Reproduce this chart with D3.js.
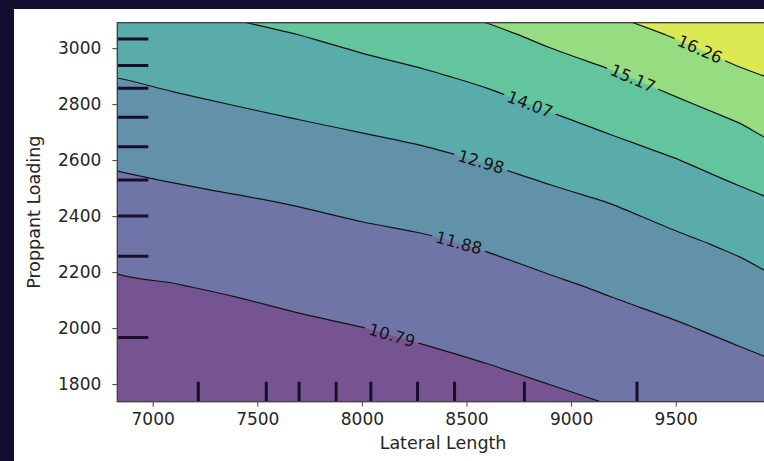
<!DOCTYPE html>
<html>
<head>
<meta charset="utf-8">
<title>Partial dependence: Lateral Length x Proppant Loading</title>
<script src="https://cdn.jsdelivr.net/npm/d3@7"></script>
<style>
  body { margin: 0; background: #120c2e; }
  svg { display: block; }
  .tick text { font-family: "DejaVu Sans", sans-serif; font-size: 17px; fill: #262626; }
  .tick line { stroke: #444; }
  .label { font-family: "DejaVu Sans", sans-serif; font-size: 17.5px; fill: #262626; }
  .clabel { font-family: "DejaVu Sans", sans-serif; font-size: 16.5px; fill: #151515; }
</style>
</head>
<body>
<svg id="chart" width="764" height="461"></svg>
<script>
// grid of the partial dependence
const lateralLength = [6800, 7100, 7400, 7700, 8000, 8300, 8600, 8900, 9200, 9500, 9800, 10100];
const proppantLoading = [3200, 3050, 2900, 2750, 2600, 2450, 2300, 2150, 2000, 1850, 1700];
// one row per proppant loading value (top to bottom)
const response = [
  [14.02, 14.24, 14.47, 14.73, 15.00, 15.33, 15.77, 16.29, 16.74, 17.25, 17.74, 18.15],
  [13.50, 13.69, 13.87, 14.08, 14.34, 14.63, 14.96, 15.41, 15.87, 16.35, 16.90, 17.34],
  [12.99, 13.17, 13.35, 13.54, 13.74, 13.96, 14.25, 14.67, 15.06, 15.54, 16.07, 16.53],
  [12.48, 12.66, 12.83, 13.00, 13.17, 13.37, 13.63, 13.97, 14.35, 14.78, 15.25, 15.74],
  [11.98, 12.14, 12.30, 12.47, 12.63, 12.79, 13.03, 13.32, 13.67, 14.04, 14.50, 14.98],
  [11.52, 11.66, 11.79, 11.93, 12.10, 12.26, 12.49, 12.74, 13.01, 13.39, 13.79, 14.22],
  [11.07, 11.20, 11.34, 11.49, 11.63, 11.76, 11.96, 12.23, 12.50, 12.79, 13.14, 13.55],
  [10.64, 10.76, 10.90, 11.06, 11.21, 11.35, 11.54, 11.75, 12.00, 12.28, 12.59, 12.92],
  [10.24, 10.36, 10.48, 10.64, 10.78, 10.95, 11.13, 11.34, 11.56, 11.79, 12.08, 12.40],
  [ 9.89,  9.99, 10.10, 10.25, 10.38, 10.55, 10.73, 10.93, 11.14, 11.36, 11.61, 11.89],
  [ 9.56,  9.66,  9.75,  9.90, 10.01, 10.16, 10.34, 10.53, 10.73, 10.94, 11.17, 11.43]
];
const levels = [10.79, 11.88, 12.98, 14.07, 15.17, 16.26];
const levelRange = [9.70, 17.36];
// lateral length where each contour carries its label
const labelAt = [8143, 8463, 8569, 8803, 9295, 9615];
const lateralDeciles = [7218, 7543, 7700, 7877, 8043, 8266, 8443, 8777, 9315];
const proppantDeciles = [1966, 2257, 2400, 2529, 2648, 2753, 2857, 2938, 3033];
const xTicks = [7000, 7500, 8000, 8500, 9000, 9500];
const yTicks = [1800, 2000, 2200, 2400, 2600, 2800, 3000];

const svg = d3.select("#chart");

// white figure panel
svg.append("rect")
    .attr("x", 14).attr("y", 9)
    .attr("width", 760).attr("height", 460)
    .attr("fill", "#fff");

const pLeft = 117.3, pRight = 768.8, pTop = 22.7, pBottom = 401.7;
const x = d3.scaleLinear().domain([6831, 9945]).range([pLeft, pRight]);
const y = d3.scaleLinear().domain([1737, 3091]).range([pBottom, pTop]);

// band colours: viridis at alpha 0.75 over white
const bounds = [levelRange[0], ...levels, levelRange[1]];
const bandColor = i => {
    const mid = (bounds[i] + bounds[i + 1]) / 2;
    const t = (mid - levelRange[0]) / (levelRange[1] - levelRange[0]);
    return d3.interpolateRgb("#fff", d3.interpolateViridis(t))(0.75);
};

const defs = svg.append("defs");
defs.append("clipPath").attr("id", "plotClip")
  .append("rect")
    .attr("x", pLeft).attr("y", pTop)
    .attr("width", pRight - pLeft).attr("height", pBottom - pTop);

const nx = lateralLength.length, ny = proppantLoading.length;
const stepX = lateralLength[1] - lateralLength[0];
const stepY = proppantLoading[1] - proppantLoading[0];
const gridToPx = (c, r) => [
    x(lateralLength[0] + (c - 0.5) * stepX),
    y(proppantLoading[0] + (r - 0.5) * stepY)
];

const contours = d3.contours()
    .size([nx, ny])
    .thresholds(levels)(response.flat());

// smooth the marching-squares rings
const ringLine = d3.line().curve(d3.curveCatmullRomClosed.alpha(0.5));
const contourPath = mp => mp.coordinates
    .map(poly => poly.map(ring => ringLine(ring.slice(0, -1).map(p => gridToPx(p[0], p[1])))).join(""))
    .join("");

const plot = svg.append("g").attr("clip-path", "url(#plotClip)");

plot.append("rect")
    .attr("x", pLeft).attr("y", pTop)
    .attr("width", pRight - pLeft).attr("height", pBottom - pTop)
    .attr("fill", bandColor(0));

plot.append("g")
  .selectAll("path")
  .data(contours)
  .join("path")
    .attr("d", contourPath)
    .attr("fill", (d, i) => bandColor(i + 1));

// find where each contour crosses its label position
function labelPoint(contour, xv) {
    const X = x(xv);
    for (const poly of contour.coordinates) {
        for (const ring of poly) {
            for (let k = 0; k < ring.length - 1; k++) {
                const p = gridToPx(...ring[k]), q = gridToPx(...ring[k + 1]);
                if (p[0] === q[0] || (p[0] - X) * (q[0] - X) > 0) continue;
                const f = (X - p[0]) / (q[0] - p[0]);
                const yy = p[1] + f * (q[1] - p[1]);
                if (yy < pTop || yy > pBottom) continue;
                let a = Math.atan2(q[1] - p[1], q[0] - p[0]) * 180 / Math.PI;
                if (a > 90) a -= 180;
                if (a < -90) a += 180;
                return { x: X, y: yy, angle: a };
            }
        }
    }
    return null;
}

const labels = contours.map((c, i) => {
    const pt = labelPoint(c, labelAt[i]);
    return pt ? { ...pt, text: levels[i].toFixed(2) } : null;
}).filter(d => d);

const labelText = plot.append("g")
  .selectAll("text")
  .data(labels)
  .join("text")
    .attr("class", "clabel")
    .attr("text-anchor", "middle")
    .attr("dominant-baseline", "central")
    .attr("transform", d => `translate(${d.x},${d.y}) rotate(${d.angle})`)
    .text(d => d.text);

labelText.each(function(d) { d.w = this.getComputedTextLength(); });

const mask = defs.append("mask").attr("id", "labelGap")
    .attr("maskUnits", "userSpaceOnUse")
    .attr("x", 0).attr("y", 0).attr("width", 800).attr("height", 470);
mask.append("rect").attr("x", 0).attr("y", 0).attr("width", 800).attr("height", 470).attr("fill", "#fff");
mask.selectAll("rect.gap")
  .data(labels)
  .join("rect")
    .attr("class", "gap")
    .attr("x", d => -d.w / 2 - 4).attr("y", -8)
    .attr("width", d => d.w + 8).attr("height", 16)
    .attr("transform", d => `translate(${d.x},${d.y}) rotate(${d.angle})`)
    .attr("fill", "#000");

plot.append("g")
    .attr("mask", "url(#labelGap)")
  .selectAll("path")
  .data(contours)
  .join("path")
    .attr("d", contourPath)
    .attr("fill", "none")
    .attr("stroke", "#141414")
    .attr("stroke-width", 1.2);

// decile rugs
plot.append("g")
  .selectAll("line")
  .data(lateralDeciles)
  .join("line")
    .attr("x1", d => x(d)).attr("x2", d => x(d))
    .attr("y1", pBottom).attr("y2", pBottom - 20)
    .attr("stroke", "#1a0d2c")
    .attr("stroke-width", 3);

plot.append("g")
  .selectAll("line")
  .data(proppantDeciles)
  .join("line")
    .attr("x1", pLeft).attr("x2", pLeft + 31)
    .attr("y1", d => y(d)).attr("y2", d => y(d))
    .attr("stroke", "#1a0d2c")
    .attr("stroke-width", 3);

// frame
svg.append("rect")
    .attr("x", pLeft).attr("y", pTop)
    .attr("width", pRight - pLeft).attr("height", pBottom - pTop)
    .attr("fill", "none")
    .attr("stroke", "#3c3c3c")
    .attr("stroke-width", 1.3);

// axes
const xAxis = svg.append("g")
    .attr("transform", `translate(0,${pBottom})`)
    .call(d3.axisBottom(x).tickValues(xTicks).tickFormat(d3.format("d")).tickSize(5).tickPadding(6));
xAxis.select(".domain").remove();

const yAxis = svg.append("g")
    .attr("transform", `translate(${pLeft},0)`)
    .call(d3.axisLeft(y).tickValues(yTicks).tickFormat(d3.format("d")).tickSize(5).tickPadding(11));
yAxis.select(".domain").remove();

svg.append("text")
    .attr("class", "label")
    .attr("x", (pLeft + pRight) / 2)
    .attr("y", 449)
    .attr("text-anchor", "middle")
    .text("Lateral Length");

svg.append("text")
    .attr("class", "label")
    .attr("transform", `translate(39.5,${(pTop + pBottom) / 2}) rotate(-90)`)
    .attr("text-anchor", "middle")
    .text("Proppant Loading");
</script>
</body>
</html>
